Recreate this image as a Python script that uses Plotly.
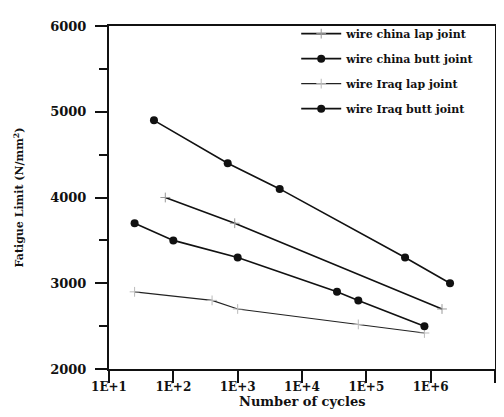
import plotly.graph_objects as go

# Data
china_lap_x = [75, 900, 1.5e6]
china_lap_y = [4000, 3700, 2700]

china_butt_x = [50, 700, 4500, 4e5, 2e6]
china_butt_y = [4900, 4400, 4100, 3300, 3000]

iraq_lap_x = [25, 400, 1000, 7.5e4, 8e5]
iraq_lap_y = [2900, 2800, 2700, 2520, 2420]

iraq_butt_x = [25, 100, 1000, 3.5e4, 7.5e4, 8e5]
iraq_butt_y = [3700, 3500, 3300, 2900, 2800, 2500]

x_tickvals = [1e1, 1e2, 1e3, 1e4, 1e5, 1e6, 1e7]
x_ticktext = ["1E+1", "1E+2", "1E+3", "1E+4", "1E+5", "1E+6", "1E+7"]

FONT = "DejaVu Serif"
INK = "#111111"

fig = go.Figure()
fig.add_trace(go.Scatter(
    x=china_lap_x, y=china_lap_y, name="wire china lap joint", mode="lines+markers",
    line=dict(color=INK, width=1.6),
    marker=dict(symbol="cross-thin", size=7, line=dict(color="#999999", width=1)),
    legendgroup="a"))
fig.add_trace(go.Scatter(
    x=china_butt_x, y=china_butt_y, name="wire china butt joint", mode="lines+markers",
    line=dict(color=INK, width=1.6),
    marker=dict(symbol="circle", size=8, color=INK),
    legendgroup="b"))
fig.add_trace(go.Scatter(
    x=iraq_lap_x, y=iraq_lap_y, name="wire Iraq lap joint", mode="lines+markers",
    line=dict(color="#222222", width=1.2),
    marker=dict(symbol="cross-thin", size=7, line=dict(color="#bbbbbb", width=1)),
    legendgroup="c"))
fig.add_trace(go.Scatter(
    x=iraq_butt_x, y=iraq_butt_y, name="wire Iraq butt joint", mode="lines+markers",
    line=dict(color=INK, width=1.6),
    marker=dict(symbol="circle", size=8, color=INK),
    legendgroup="d"))

fig.update_layout(
    width=504, height=417,
    margin=dict(l=101, r=17, t=11, b=56),
    paper_bgcolor="white", plot_bgcolor="white",
    font=dict(family=FONT, color=INK, size=12, weight="bold"),
    showlegend=True,
    legend=dict(x=0.485, y=1.02, xanchor="left", yanchor="top",
                bgcolor="rgba(0,0,0,0)", font=dict(size=11, family=FONT, weight="bold"),
                traceorder="grouped", tracegroupgap=6, itemwidth=40),
    annotations=[dict(text="Number of cycles", xref="paper", yref="paper",
                      x=0.5, y=-0.094, xanchor="center", yanchor="middle", showarrow=False,
                      font=dict(size=13, family=FONT, weight="bold", color=INK))],
)
fig.update_xaxes(
    type="log", range=[1, 7], tickvals=x_tickvals, ticktext=x_ticktext,
    showgrid=False, zeroline=False,
    showline=True, linecolor=INK, linewidth=2, mirror=True,
    ticks="outside", ticklen=12, tickwidth=2, tickcolor=INK,
    tickfont=dict(size=12, family=FONT, weight="bold"),
    ticklabelstandoff=-6,
)
fig.update_yaxes(
    range=[2000, 6000], tickvals=[2000, 3000, 4000, 5000, 6000],
    showgrid=False, zeroline=False,
    showline=True, linecolor=INK, linewidth=2, mirror=True,
    ticks="outside", ticklen=12, tickwidth=2, tickcolor=INK,
    minor=dict(tickvals=[2500, 3500, 4500, 5500], ticks="outside", ticklen=8, tickwidth=2, tickcolor=INK),
    tickfont=dict(size=13, family=FONT, weight="bold"),
    ticklabelstandoff=6,
    title=dict(text="Fatigue Limit (N/mm<sup>2</sup>)", font=dict(size=11, family=FONT, weight="bold"), standoff=24),
)

fig.write_html("out.html")
